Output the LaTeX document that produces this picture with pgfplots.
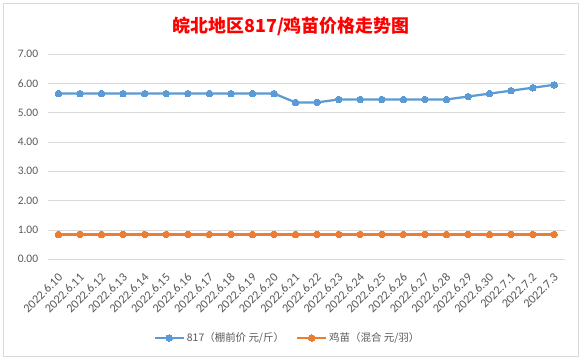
\documentclass[border=0pt]{standalone}
\usepackage{fontspec}
\setmainfont{Carlito}
\newfontfamily\cjk{Noto Sans CJK SC}
\usepackage{pgfplots}
\pgfplotsset{compat=1.18}
\definecolor{cblue}{HTML}{5B9BD5}
\definecolor{corange}{HTML}{ED7D31}
\definecolor{gridc}{HTML}{D9D9D9}
\definecolor{txt}{HTML}{595959}
\pgfplotstableread{
x b o
0 5.65 0.85
1 5.65 0.85
2 5.65 0.85
3 5.65 0.85
4 5.65 0.85
5 5.65 0.85
6 5.65 0.85
7 5.65 0.85
8 5.65 0.85
9 5.65 0.85
10 5.65 0.85
11 5.35 0.85
12 5.35 0.85
13 5.45 0.85
14 5.45 0.85
15 5.45 0.85
16 5.45 0.85
17 5.45 0.85
18 5.45 0.85
19 5.55 0.85
20 5.65 0.85
21 5.75 0.85
22 5.85 0.85
23 5.95 0.85
}\data
\begin{document}
\begin{tikzpicture}[x=1bp,y=1bp]
\useasboundingbox (0,0) rectangle (582,359);
\fill[white] (0,0) rectangle (582,359);
\draw[gridc, line width=0.75bp] (3,3) rectangle (578,356);
\node[text=red, font=\cjk\bfseries\fontsize{18}{20}\selectfont] at (291,333) {皖北地区817/鸡苗价格走势图};
\begin{axis}[
  at={(47.7bp,99.7bp)}, anchor=south west, scale only axis,
  width=517.3bp, height=205.3bp,
  xmin=-0.5, xmax=23.5, ymin=0, ymax=7,
  clip=false,
  ytick={0,1,2,3,4,5,6,7},
  yticklabels={0.00,1.00,2.00,3.00,4.00,5.00,6.00,7.00},
  xtick={0,...,23},
  xticklabels={2022.6.10,2022.6.11,2022.6.12,2022.6.13,2022.6.14,2022.6.15,2022.6.16,2022.6.17,2022.6.18,2022.6.19,2022.6.20,2022.6.21,2022.6.22,2022.6.23,2022.6.24,2022.6.25,2022.6.26,2022.6.27,2022.6.28,2022.6.29,2022.6.30,2022.7.1,2022.7.2,2022.7.3},
  axis line style={draw=none},
  ymajorgrids, grid style={gridc, line width=0.75bp},
  major tick length=0,
  yticklabel style={font=\fontsize{11.5}{12}\selectfont, text=txt, inner sep=0pt, xshift=-9.4bp},
  xticklabel style={font=\fontsize{12.3}{13}\selectfont, text=txt, inner sep=0pt, xshift=2bp, yshift=-16bp, rotate=45, anchor=east},
  legend style={at={(0.4636,-0.383)}, anchor=center, draw=none, fill=none,
    font=\cjk\fontsize{10.5}{12}\selectfont, text=txt,
    /tikz/every even column/.append style={column sep=10bp}},
  legend columns=2,
  legend image code/.code={\draw[mark repeat=2,mark phase=2,#1] plot coordinates {(0bp,0bp) (14.5bp,0bp) (29bp,0bp)};},
]
\addplot[cblue, line width=2.25bp, mark=*, mark size=3.3bp, mark options={fill=cblue, draw=cblue, line width=0bp}] table[x=x,y=b] {\data};
\addlegendentry{817（棚前价 元/斤）}
\addplot[corange, line width=2.25bp, mark=*, mark size=3.3bp, mark options={fill=corange, draw=corange, line width=0bp}] table[x=x,y=o] {\data};
\addlegendentry{鸡苗（混合 元/羽）}
\end{axis}
\end{tikzpicture}
\end{document}
